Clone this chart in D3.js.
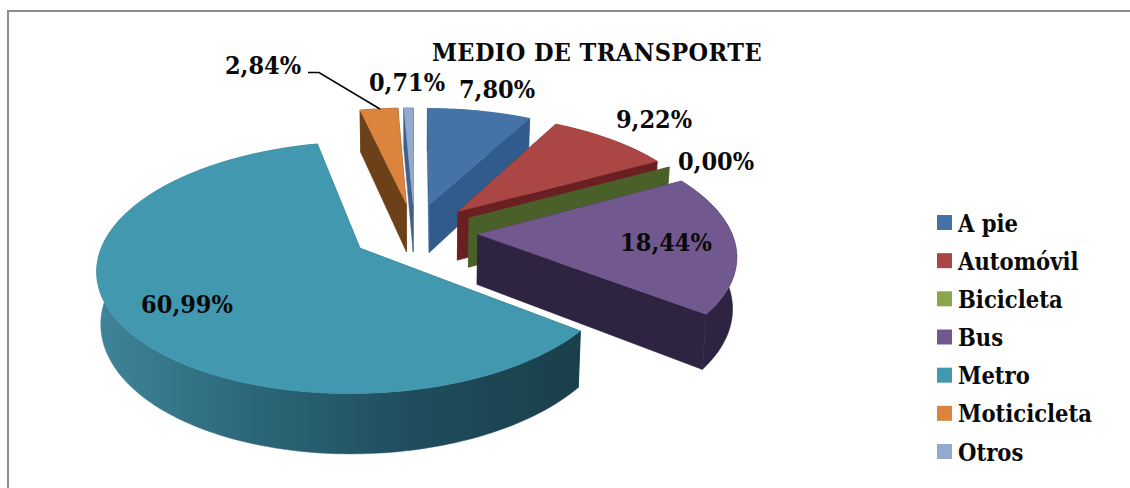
<!DOCTYPE html>
<html>
<head>
<meta charset="utf-8">
<script src="https://cdn.jsdelivr.net/npm/d3@7"></script>
<style>
    html, body { margin: 0; padding: 0; background: #fff; }
    text { font-family: "DejaVu Serif", serif; font-stretch: condensed; font-weight: bold; fill: #0a0a0a; }
</style>
</head>
<body>
<svg id="chart" width="1130" height="488"></svg>
<script>
const categories = ['A pie', 'Automóvil', 'Bicicleta', 'Bus', 'Metro', 'Moticicleta', 'Otros'];
const percentages = [7.80, 9.22, 0.00, 18.44, 60.99, 2.84, 0.71];
const topColors = ['#4572a7', '#aa4643', '#89a54e', '#71588f', '#4198af', '#db843d', '#93a9cf'];
const sideColors = ['#2f5c8c', '#6a2022', '#4a6029', '#2e2340', '#1f4e5e', '#6c4018', '#3f5f8c'];
const metroWallStops = ['#3f8499', '#2b6678', '#1f4c5c', '#1a3f4b'];
const title = 'MEDIO DE TRANSPORTE';

const width = 1130;
const height = 488;
const center = {x: 414.5, y: 232};
const radiusX = 253.5;
const radiusY = 118;
const perspective = 0.151;
const explode = 0.25;
const depth = 50;
const taper = 0.013;

// Excel draws the pie in true perspective, so the far side is smaller than the near side
// and the bottom of the pie is a little narrower than the top.
const project = (u, v, drop = 0) => {
    const s = 1 / (1 + perspective * v);
    const shrink = 1 - taper * drop / depth;
    return [center.x + radiusX * u * s * shrink, center.y - radiusY * v * s + drop * s];
};

const percentFormat = d3.formatLocale({decimal: ',', thousands: '.', grouping: [3], currency: ['', '']}).format('.2f');

const svg = d3.select('#chart');
const line = d3.line();

const arcs = d3.pie().sort(null).value(d => d)(percentages);

const slices = arcs.map((arc, i) => {
    const mid = (arc.startAngle + arc.endAngle) / 2;
    return {
        index: i,
        start: arc.startAngle,
        end: arc.endAngle,
        offsetU: explode * Math.sin(mid),
        offsetV: explode * Math.cos(mid)
    };
});

const rim = (slice, angle, drop) => project(
    slice.offsetU + Math.sin(angle),
    slice.offsetV + Math.cos(angle),
    drop
);

const apex = (slice, drop) => project(slice.offsetU, slice.offsetV, drop);

const arcPoints = (slice, drop) => {
    const steps = Math.max(1, Math.ceil((slice.end - slice.start) / 0.02));
    return d3.range(steps + 1).map(k => rim(slice, slice.start + (slice.end - slice.start) * k / steps, drop));
};

const defs = svg.append('defs');
defs.append('linearGradient')
    .attr('id', 'metro-wall')
    .attr('gradientUnits', 'userSpaceOnUse')
    .attr('x1', 97).attr('x2', 581).attr('y1', 0).attr('y2', 0)
    .selectAll('stop')
    .data(metroWallStops)
    .join('stop')
    .attr('offset', (d, i) => i / (metroWallStops.length - 1))
    .attr('stop-color', d => d);

// chart frame, the bottom and right edges fall off the picture
svg.append('path')
    .attr('d', `M 8,${height} V 11 H ${width}`)
    .attr('fill', 'none')
    .attr('stroke', '#8c8c8c')
    .attr('stroke-width', 2);

// painter's order, back of the pie first
const drawOrder = [6, 5, 0, 1, 2, 3, 4];

const pie = svg.append('g').attr('class', 'pie');

drawOrder.forEach(i => {
    const slice = slices[i];
    const group = pie.append('g').attr('class', 'slice');
    const side = i === 4 ? 'url(#metro-wall)' : sideColors[i];

    [slice.start, slice.end].forEach(angle => {
        group.append('path')
            .attr('d', line([apex(slice, 0), rim(slice, angle, 0), rim(slice, angle, depth), apex(slice, depth)]) + 'Z')
            .attr('fill', sideColors[i])
            .attr('stroke', sideColors[i])
            .attr('stroke-width', 0.5);
    });

    if (slice.end > slice.start) {
        group.append('path')
            .attr('d', line(arcPoints(slice, 0).concat(arcPoints(slice, depth).reverse())) + 'Z')
            .attr('fill', side)
            .attr('stroke', side)
            .attr('stroke-width', 0.5);

        group.append('path')
            .attr('d', line([apex(slice, 0)].concat(arcPoints(slice, 0))) + 'Z')
            .attr('fill', topColors[i])
            .attr('stroke', topColors[i])
            .attr('stroke-width', 0.5);
    }
});

// leader line for the small orange slice
svg.append('path')
    .attr('d', line([[308, 72.5], [319, 72.5], [380, 109]]))
    .attr('fill', 'none')
    .attr('stroke', '#000')
    .attr('stroke-width', 1.5);

svg.append('text')
    .attr('x', 597)
    .attr('y', 61)
    .attr('text-anchor', 'middle')
    .attr('font-size', 25)
    .attr('letter-spacing', 0.4)
    .text(title);

const labelPositions = [[497, 98], [654, 128], [716, 170], [666, 251], [187, 313], [263, 74], [407, 91]];

svg.append('g')
    .selectAll('text')
    .data(percentages)
    .join('text')
    .attr('x', (d, i) => labelPositions[i][0])
    .attr('y', (d, i) => labelPositions[i][1])
    .attr('text-anchor', 'middle')
    .attr('font-size', 25)
    .text(d => percentFormat(d) + '%');

const legendY = d3.scalePoint().domain(categories).range([222.5, 451.5]);

const legend = svg.append('g')
    .attr('class', 'legend')
    .selectAll('g')
    .data(categories)
    .join('g')
    .attr('transform', d => `translate(937,${legendY(d)})`);

legend.append('rect')
    .attr('y', -7.5)
    .attr('width', 15)
    .attr('height', 15)
    .attr('fill', (d, i) => topColors[i]);

legend.append('text')
    .attr('x', 21)
    .attr('y', 9)
    .attr('font-size', 23.5)
    .text(d => d);
</script>
</body>
</html>
